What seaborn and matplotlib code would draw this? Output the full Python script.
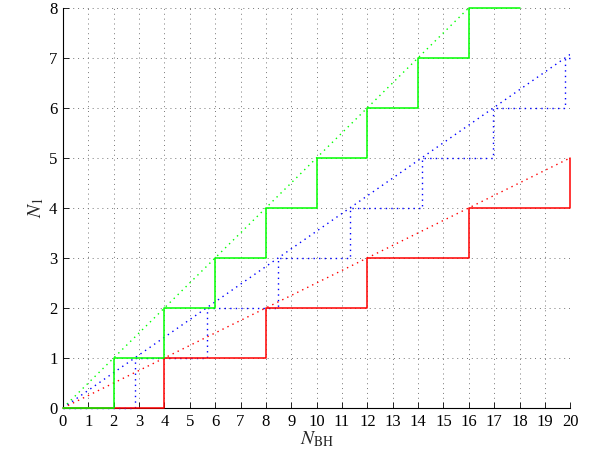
import numpy as np
import pandas as pd
import matplotlib
matplotlib.use("Agg")
import matplotlib.pyplot as plt
import seaborn as sns

# step curves (x where the count jumps, count after the jump)
green_x = [0, 2, 4, 6, 8, 10, 12, 14, 16, 18]
green_y = [0, 1, 2, 3, 4, 5, 6, 7, 8, 8]
red_x = [0, 4, 8, 12, 16, 20]
red_y = [0, 1, 2, 3, 4, 5]
blue_x = [0, 2.83, 5.66, 8.49, 11.31, 14.14, 16.97, 19.80, 20]
blue_y = [0, 1, 2, 3, 4, 5, 6, 7, 7]

# dotted reference lines (end points)
green_lin_x = [0, 16]
green_lin_y = [0, 8]
blue_lin_x = [0, 20]
blue_lin_y = [0, 7.07]
red_lin_x = [0, 20]
red_lin_y = [0, 5]

sns.set_style("white")
plt.rcParams["font.family"] = ["Liberation Serif", "DejaVu Serif"]
plt.rcParams["mathtext.fontset"] = "stix"

fig = plt.figure(figsize=(5.94, 4.61), dpi=100)
ax = fig.add_axes([0.106, 0.115, 0.854, 0.868])

dots = (0, (1, 3))

# diagonals
sns.lineplot(x=green_lin_x, y=green_lin_y, ax=ax, color="#00ff00", linestyle=dots, linewidth=1)
sns.lineplot(x=blue_lin_x, y=blue_lin_y, ax=ax, color="#0000ff", linestyle=dots, linewidth=1)
sns.lineplot(x=red_lin_x, y=red_lin_y, ax=ax, color="#ff0000", linestyle=dots, linewidth=1)

# steps (drawn above the axis lines)
sns.lineplot(x=blue_x, y=blue_y, ax=ax, color="#0000ff", linestyle=dots, linewidth=1,
             drawstyle="steps-post", sort=False, clip_on=False, zorder=3)
sns.lineplot(x=red_x, y=red_y, ax=ax, color="#ff0000", linewidth=1.1,
             drawstyle="steps-post", sort=False, clip_on=False, zorder=3)
sns.lineplot(x=green_x, y=green_y, ax=ax, color="#00ff00", linewidth=1.1,
             drawstyle="steps-post", sort=False, clip_on=False, zorder=3)

ax.set_xlim(0, 20)
ax.set_ylim(0, 8)
ax.set_xticks(range(0, 21))
ax.set_yticks(range(0, 9))
ax.grid(True, linestyle=(0, (1, 4)), color="#777777", linewidth=0.7)
ax.set_axisbelow(True)

for s in ["top", "right"]:
    ax.spines[s].set_visible(False)
for s in ["left", "bottom"]:
    ax.spines[s].set_color("black")
    ax.spines[s].set_linewidth(0.8)

ax.tick_params(direction="in", length=4, width=0.6, labelsize=12,
               bottom=True, left=True, colors="black", pad=4)

ax.set_xlabel(r"$N_{\mathrm{BH}}$", fontsize=14, labelpad=0)
ax.set_ylabel(r"$N_{\mathrm{1}}$", fontsize=14, labelpad=2)

fig.savefig("out.png", dpi=100)
